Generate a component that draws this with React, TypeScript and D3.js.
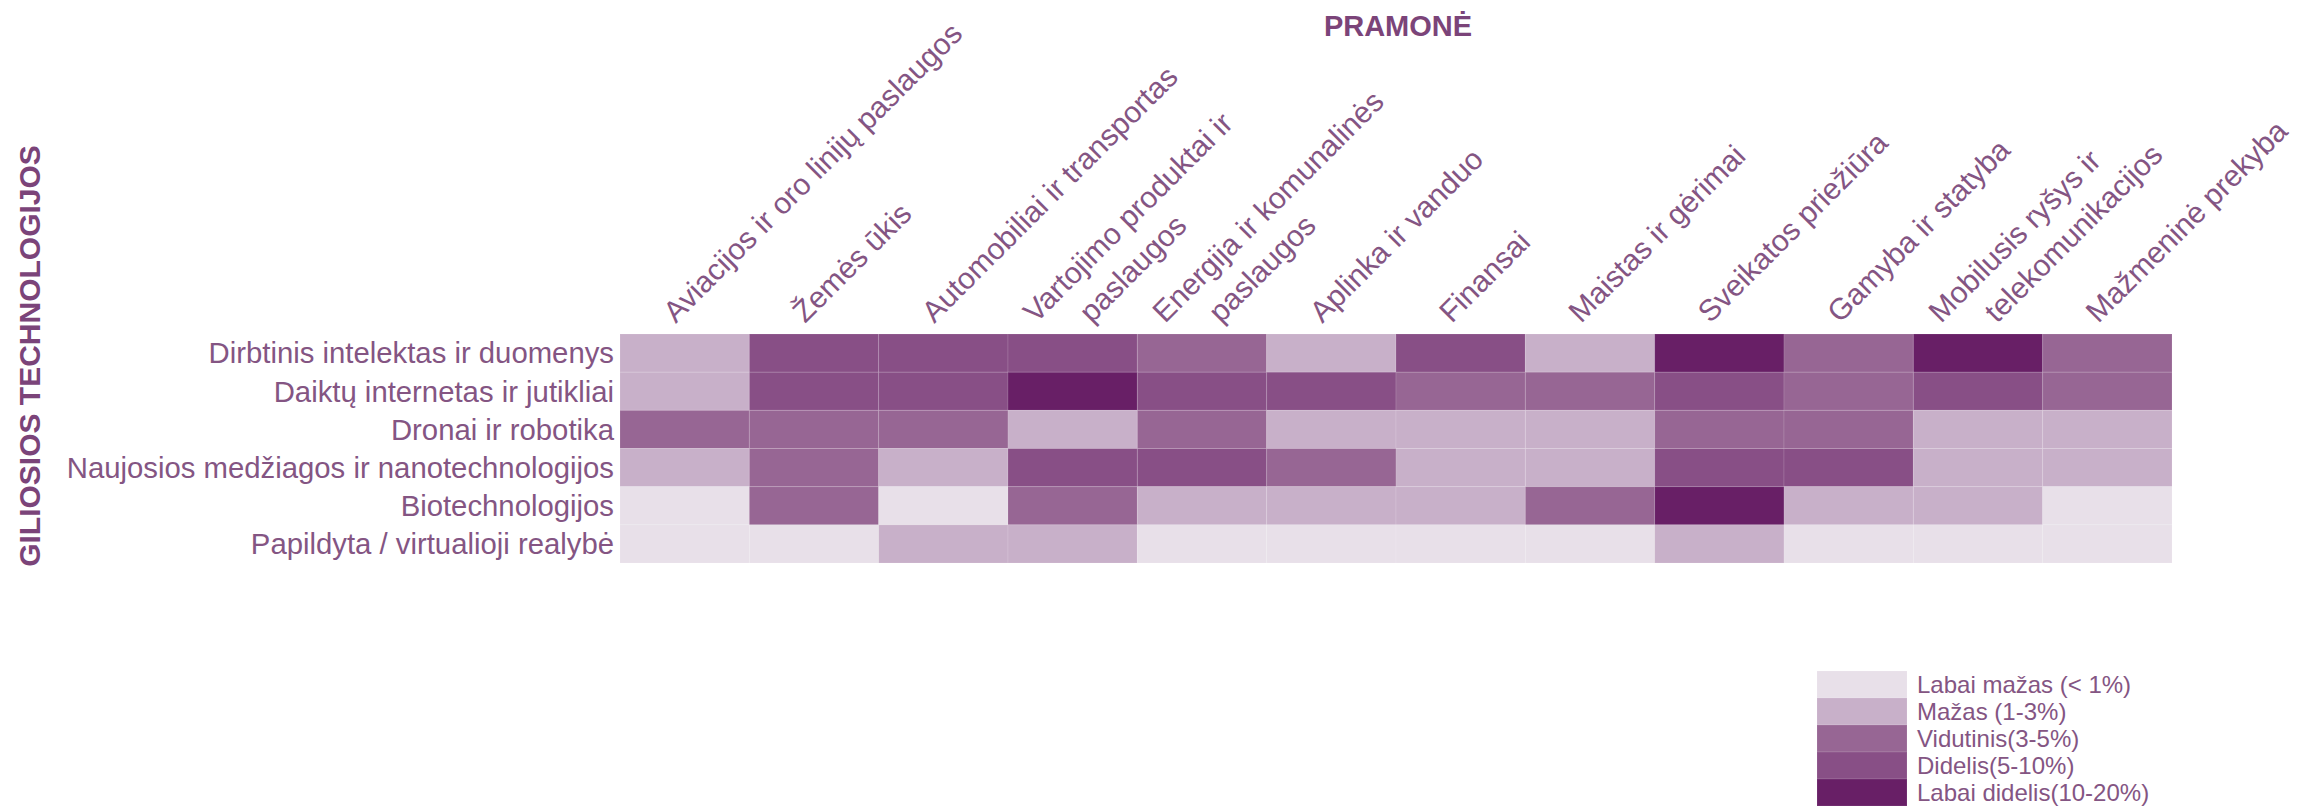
import { useEffect, useRef } from "react";
import * as d3 from "d3";

// columns (industries), "|" marks a line break in the label
const industries = [
  "Aviacijos ir oro linijų paslaugos",
  "Žemės ūkis",
  "Automobiliai ir transportas",
  "Vartojimo produktai ir|paslaugos",
  "Energija ir komunalinės|paslaugos",
  "Aplinka ir vanduo",
  "Finansai",
  "Maistas ir gėrimai",
  "Sveikatos priežiūra",
  "Gamyba ir statyba",
  "Mobilusis ryšys ir|telekomunikacijos",
  "Mažmeninė prekyba",
];

// rows (technologies)
const technologies = [
  "Dirbtinis intelektas ir duomenys",
  "Daiktų internetas ir jutikliai",
  "Dronai ir robotika",
  "Naujosios medžiagos ir nanotechnologijos",
  "Biotechnologijos",
  "Papildyta / virtualioji realybė",
];

// impact level per industry: 0 labai mažas ... 4 labai didelis
const dirbtinisIntelektas = [1, 3, 3, 3, 2, 1, 3, 1, 4, 2, 4, 2];
const daiktuInternetas = [1, 3, 3, 4, 3, 3, 2, 2, 3, 2, 3, 2];
const dronaiRobotika = [2, 2, 2, 1, 2, 1, 1, 1, 2, 2, 1, 1];
const naujosiosMedziagos = [1, 2, 1, 3, 3, 2, 1, 1, 3, 3, 1, 1];
const biotechnologijos = [0, 2, 0, 2, 1, 1, 1, 2, 4, 1, 1, 0];
const papildytaRealybe = [0, 0, 1, 1, 0, 0, 0, 0, 1, 0, 0, 0];

const levelLabels = [
  "Labai mažas (< 1%)",
  "Mažas (1-3%)",
  "Vidutinis(3-5%)",
  "Didelis(5-10%)",
  "Labai didelis(10-20%)",
];
const levelColors = ["#e8e0e9", "#c8b0c9", "#976694", "#884f86", "#681f66"];

const rows = [
  dirbtinisIntelektas,
  daiktuInternetas,
  dronaiRobotika,
  naujosiosMedziagos,
  biotechnologijos,
  papildytaRealybe,
];

const W = 2303;
const H = 808;
const FONT = "'Liberation Sans', Arial, sans-serif";
const TEXT = "#845583";
const TITLE = "#7b4479";

export default function App() {
  const svgRef = useRef<SVGSVGElement>(null);

  useEffect(() => {
    const svg = d3.select(svgRef.current);
    svg.selectAll("*").remove();

    const x = d3.scaleBand().domain(industries).range([620, 2172]).padding(0);
    const y = d3.scaleBand().domain(technologies).range([334, 563]).padding(0);
    const color = d3.scaleOrdinal<number, string>().domain([0, 1, 2, 3, 4]).range(levelColors);

    const cells = rows.flatMap((vals, r) =>
      vals.map((v, c) => ({ tech: technologies[r], ind: industries[c], v }))
    );

    svg
      .append("g")
      .selectAll("rect")
      .data(cells)
      .enter()
      .append("rect")
      .attr("x", (d) => x(d.ind)!)
      .attr("y", (d) => y(d.tech)!)
      .attr("width", x.bandwidth())
      .attr("height", y.bandwidth())
      .attr("fill", (d) => color(d.v))
      .attr("stroke", "rgba(255,255,255,0.12)")
      .attr("stroke-width", 1);

    // row labels
    svg
      .append("g")
      .selectAll("text")
      .data(technologies)
      .enter()
      .append("text")
      .attr("x", 614)
      .attr("y", (d) => y(d)! + y.bandwidth() / 2)
      .attr("dy", "0.35em")
      .attr("text-anchor", "end")
      .attr("font-family", FONT)
      .attr("font-size", 29.3)
      .attr("fill", TEXT)
      .text((d) => d);

    // column labels, rotated -45
    const colG = svg.append("g");
    industries.forEach((name) => {
      const lines = name.split("|");
      const cx = x(name)! + x.bandwidth() / 2;
      lines.forEach((line, k) => {
        const lx = cx - 9 + (k - (lines.length - 1) / 2) * 56;
        const ly = 324;
        colG
          .append("text")
          .attr("x", lx)
          .attr("y", ly)
          .attr("transform", `rotate(-45, ${lx}, ${ly})`)
          .attr("font-family", FONT)
          .attr("font-size", 30)
          .attr("fill", TEXT)
          .text(line);
      });
    });

    // axis titles
    svg
      .append("text")
      .attr("x", 1398)
      .attr("y", 36)
      .attr("text-anchor", "middle")
      .attr("font-family", FONT)
      .attr("font-weight", "bold")
      .attr("font-size", 29)
      .attr("fill", TITLE)
      .text("PRAMONĖ");

    svg
      .append("text")
      .attr("transform", "translate(40,356) rotate(-90)")
      .attr("text-anchor", "middle")
      .attr("font-family", FONT)
      .attr("font-weight", "bold")
      .attr("font-size", 30)
      .attr("fill", TITLE)
      .text("GILIOSIOS TECHNOLOGIJOS");

    // legend
    const ly = d3.scaleBand().domain(levelLabels).range([671, 806]).padding(0);
    const leg = svg.append("g");
    leg
      .selectAll("rect")
      .data(levelLabels)
      .enter()
      .append("rect")
      .attr("x", 1817)
      .attr("y", (d) => ly(d)!)
      .attr("width", 90)
      .attr("height", ly.bandwidth())
      .attr("fill", (_d, i) => levelColors[i])
      .attr("stroke", "rgba(255,255,255,0.12)")
      .attr("stroke-width", 1);
    leg
      .selectAll("text")
      .data(levelLabels)
      .enter()
      .append("text")
      .attr("x", 1917)
      .attr("y", (d) => ly(d)! + ly.bandwidth() / 2)
      .attr("dy", "0.35em")
      .attr("font-family", FONT)
      .attr("font-size", 24)
      .attr("fill", TEXT)
      .text((d) => d);
  }, []);

  return (
    <svg
      ref={svgRef}
      width={W}
      height={H}
      style={{ position: "absolute", left: 0, top: 0, background: "#fff" }}
    />
  );
}
